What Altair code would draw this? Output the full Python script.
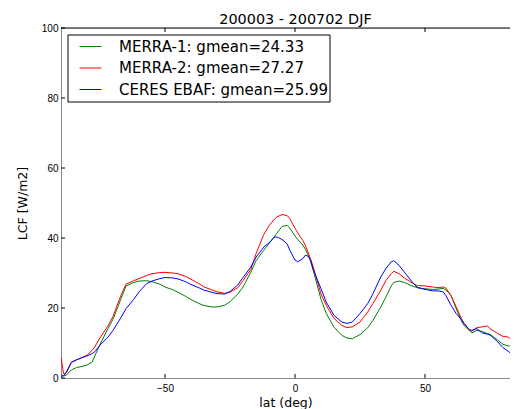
import altair as alt
import pandas as pd

lat = [-90, -89, -88, -86, -84, -82, -80, -78, -77, -75, -72, -70, -67, -65, -62, -60,
       -57, -55, -52, -50, -47, -45, -42, -40, -37, -35, -32, -30, -27, -25, -22, -20,
       -17, -15, -12, -10, -8, -7, -5, -3, -2, 0, 1, 3, 4, 5, 6, 7, 10, 12, 15, 18, 20,
       22, 25, 28, 30, 33, 35, 37, 38, 40, 42, 45, 47, 50, 53, 55, 57, 58, 60, 62, 64,
       65, 67, 68, 70, 72, 74, 75, 78, 80, 82, 83, 85, 87]

merra1 = [1.0, 0.6, 0.8, 2.3, 3.0, 3.3, 3.7, 4.6, 6.3, 9.6, 14.0, 16.8, 22.5, 26.3, 27.3, 27.7,
          27.8, 27.5, 26.8, 26.0, 25.2, 24.5, 23.3, 22.4, 21.3, 20.7, 20.3, 20.3, 20.8, 21.8, 24.0, 26.0,
          30.2, 33.5, 36.5, 38.4, 40.3, 41.3, 43.3, 43.6, 42.8, 40.6, 39.6, 38.0, 36.8, 35.2, 33.3, 30.8, 22.5, 18.5, 14.5, 12.2, 11.4,
          11.2, 12.4, 14.4, 16.5, 20.3, 23.2, 26.3, 27.3, 27.7, 27.3, 26.3, 25.8, 25.5, 25.3, 25.4, 25.6, 25.2, 23.6, 19.8, 16.3,
          15.0, 13.6, 12.9, 13.6, 13.3, 12.7, 12.5, 10.8, 9.6, 9.2, 9.1, 9.0, 8.8]

merra2 = [6.0, 1.2, 1.5, 4.5, 5.2, 5.8, 6.5, 7.9, 8.9, 11.5, 14.8, 17.6, 23.5, 26.8, 27.8, 28.4,
          29.3, 29.8, 30.1, 30.2, 30.0, 29.8, 29.0, 28.2, 27.0, 26.0, 25.2, 24.6, 24.2, 24.5, 25.8, 27.8,
          31.0, 35.5, 41.0, 43.5, 45.3, 46.0, 46.7, 46.4, 45.5, 42.8, 41.5, 39.3, 37.8, 36.0, 34.0, 31.8, 24.0, 20.8, 17.0, 15.0, 14.4,
          14.6, 16.0, 18.9, 21.3, 25.1, 27.9, 29.8, 30.5, 29.8, 28.6, 27.2, 26.4, 26.3, 26.0, 25.8, 26.0, 25.7, 23.6, 20.3, 17.0,
          15.6, 13.8, 13.4, 14.4, 14.6, 14.9, 14.1, 12.7, 11.9, 11.7, 11.0, 10.8, 10.5]

ceres = [0.5, 0.6, 1.5, 4.5, 5.2, 5.8, 6.3, 7.0, 7.5, 9.4, 11.6, 13.6, 17.2, 19.8, 22.5, 24.6,
         27.0, 27.7, 28.4, 28.7, 28.6, 28.3, 27.5, 26.7, 25.8, 25.1, 24.5, 24.1, 24.0, 24.7, 26.6, 28.7,
         31.7, 34.5, 37.4, 38.6, 40.2, 40.3, 39.6, 38.3, 36.5, 33.7, 33.2, 34.1, 35.1, 34.8, 33.7, 31.0, 25.5, 21.7, 17.9, 16.0, 15.6,
         16.0, 18.4, 21.3, 24.1, 28.9, 31.3, 33.2, 33.5, 32.2, 30.3, 27.5, 25.9, 25.3, 24.9, 24.9, 24.6, 23.6, 20.8, 18.4, 16.7,
         15.6, 13.9, 13.6, 14.1, 12.9, 12.5, 12.3, 10.3, 8.7, 7.6, 7.1, 5.8, 5.0]

series = ["MERRA-1: gmean=24.33", "MERRA-2: gmean=27.27", "CERES EBAF: gmean=25.99"]
colors = ["#008000", "#ff0000", "#0000ff"]
x_ticks = [-50, 0, 50]
y_ticks = [0, 20, 40, 60, 80, 100]

W, H = 449, 350
XDOM = [-90, -90 + W / 2.6]
FONT = "DejaVu Sans"

rows = []
for name, vals in zip(series, [merra1, merra2, ceres]):
    for la, v in zip(lat, vals):
        rows.append({"lat": la, "LCF": v, "series": name})
df = pd.DataFrame(rows)

xscale = alt.Scale(domain=XDOM, nice=False, zero=False)
yscale = alt.Scale(domain=[0, 100], nice=False)
xaxis = alt.Axis(values=x_ticks, ticks=False, tickSize=0, labelPadding=5, titlePadding=3,
                 format="d", grid=False, titleFontWeight="normal", titleFontSize=12.5,
                 titleFont=FONT)
yaxis = alt.Axis(values=y_ticks, ticks=False, tickSize=0, labelPadding=3, titlePadding=12,
                 grid=False, titleFontWeight="normal", titleFontSize=12.5, titleFont=FONT)

X = alt.X("lat:Q", scale=xscale, title="lat (deg)", axis=xaxis)
Y = alt.Y("LCF:Q", scale=yscale, title="LCF [W/m2]", axis=yaxis)

lines = alt.Chart(df).mark_line(strokeWidth=1, clip=True).encode(
    x=X,
    y=Y,
    color=alt.Color("series:N", scale=alt.Scale(domain=series, range=colors),
                    legend=alt.Legend(orient="none", legendX=7, legendY=7, title=None,
                                      symbolType="stroke", symbolSize=484, symbolStrokeWidth=1,
                                      labelFontSize=15, labelFont=FONT, labelColor="black",
                                      padding=0, rowPadding=1.5, symbolOffset=11, labelOffset=17,
                                      labelLimit=400)),
)

box = alt.Chart(pd.DataFrame({"k": [0]})).mark_rect(fill="white", stroke="black", strokeWidth=1).encode(
    x=alt.value(7), x2=alt.value(269), y=alt.value(7), y2=alt.value(74)
)

top_spine = alt.Chart(pd.DataFrame({"k": [0]})).mark_rule(color="black", strokeWidth=1).encode(
    x=alt.value(0), x2=alt.value(W), y=alt.value(0)
)

xt = pd.DataFrame({"lat": x_ticks})
xt_bottom = alt.Chart(xt).mark_rule(color="black").encode(
    x=X, y=alt.value(H), y2=alt.value(H - 4)
)
xt_top = alt.Chart(xt).mark_rule(color="black").encode(
    x=X, y=alt.value(0), y2=alt.value(4)
)
yt = pd.DataFrame({"LCF": y_ticks})
yt_left = alt.Chart(yt).mark_rule(color="black").encode(
    y=Y, x=alt.value(0), x2=alt.value(4)
)

chart = alt.layer(box, lines, top_spine, xt_bottom, xt_top, yt_left).properties(
    width=W, height=H,
    autosize=alt.AutoSizeParams(type="none"),
    padding={"left": 53, "top": 20, "right": 0, "bottom": 31},
    title=alt.TitleParams("200003 - 200702 DJF", fontSize=14.4, font=FONT, fontWeight="normal",
                          color="black", offset=-4, dx=10),
).configure_view(stroke=None).configure_axis(
    labelFont=FONT, labelFontSize=12, labelColor="black", titleFont=FONT, titleFontSize=12,
    titleFontWeight="normal", titleColor="black", domainColor="black", domainWidth=1, grid=False,
).configure(background="white")

chart.save("out.html", embed_options={"renderer": "svg", "actions": False})
